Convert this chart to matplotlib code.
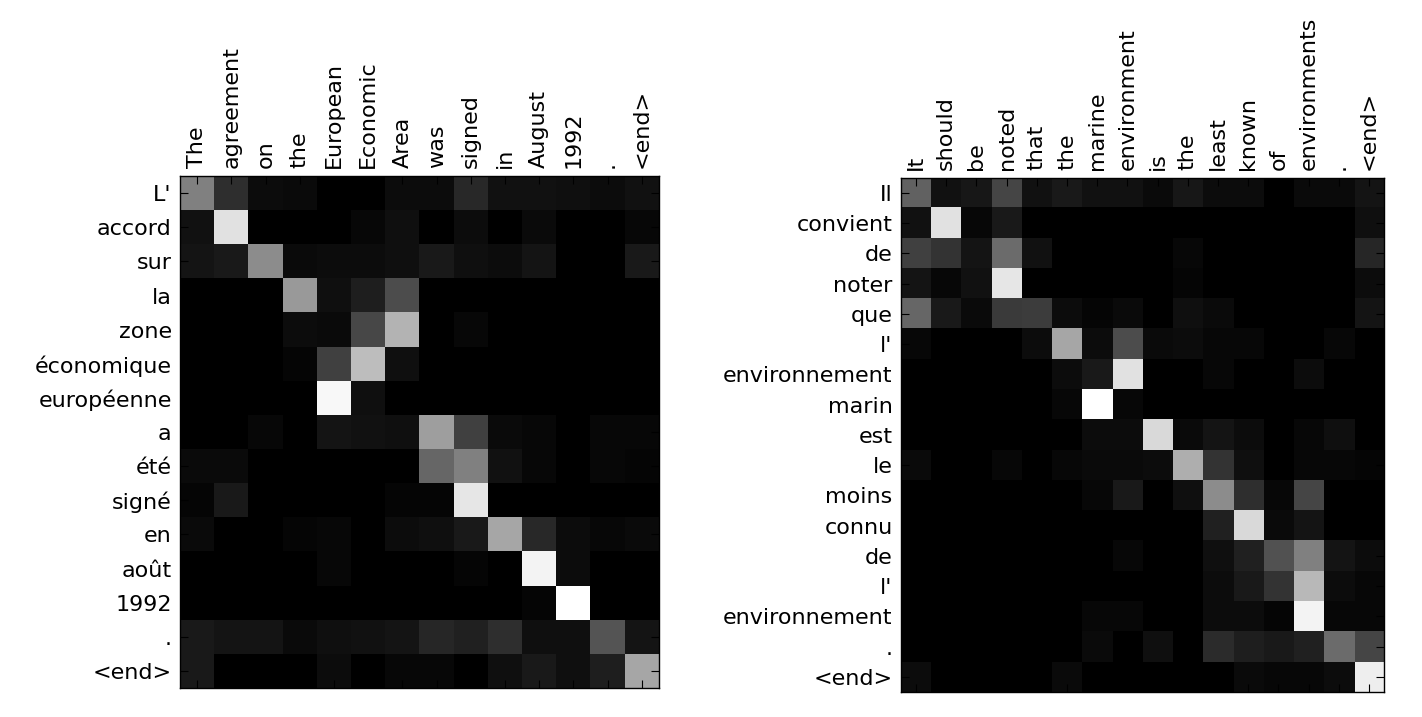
import numpy as np
import matplotlib
matplotlib.use("Agg")
import matplotlib.pyplot as plt

# lewa macierz uwagi
zrodlo1 = ["The", "agreement", "on", "the", "European", "Economic", "Area",
           "was", "signed", "in", "August", "1992", ".", "<end>"]
cel1 = ["L'", "accord", "sur", "la", "zone", "économique", "européenne",
        "a", "été", "signé", "en", "août", "1992", ".", "<end>"]
uwaga1 = [
    [0.50, 0.18, 0.05, 0.04, 0.00, 0.00, 0.05, 0.05, 0.16, 0.07, 0.07, 0.06, 0.05, 0.07],
    [0.07, 0.88, 0.00, 0.00, 0.00, 0.03, 0.06, 0.00, 0.05, 0.00, 0.04, 0.00, 0.00, 0.03],
    [0.08, 0.10, 0.55, 0.04, 0.05, 0.05, 0.06, 0.10, 0.06, 0.05, 0.08, 0.00, 0.00, 0.10],
    [0.00, 0.00, 0.00, 0.60, 0.06, 0.12, 0.30, 0.00, 0.00, 0.00, 0.00, 0.00, 0.00, 0.00],
    [0.00, 0.00, 0.00, 0.05, 0.04, 0.28, 0.70, 0.00, 0.03, 0.00, 0.00, 0.00, 0.00, 0.00],
    [0.00, 0.00, 0.00, 0.02, 0.25, 0.74, 0.06, 0.00, 0.00, 0.00, 0.00, 0.00, 0.00, 0.00],
    [0.00, 0.00, 0.00, 0.00, 0.97, 0.06, 0.00, 0.00, 0.00, 0.00, 0.00, 0.00, 0.00, 0.00],
    [0.00, 0.00, 0.03, 0.00, 0.08, 0.07, 0.06, 0.62, 0.25, 0.04, 0.03, 0.00, 0.03, 0.03],
    [0.04, 0.04, 0.00, 0.00, 0.00, 0.00, 0.00, 0.40, 0.50, 0.07, 0.03, 0.00, 0.03, 0.02],
    [0.02, 0.10, 0.00, 0.00, 0.00, 0.00, 0.02, 0.02, 0.90, 0.00, 0.00, 0.00, 0.00, 0.00],
    [0.04, 0.00, 0.00, 0.02, 0.03, 0.00, 0.05, 0.06, 0.10, 0.65, 0.16, 0.05, 0.03, 0.04],
    [0.00, 0.00, 0.00, 0.00, 0.03, 0.00, 0.00, 0.00, 0.02, 0.00, 0.95, 0.05, 0.00, 0.00],
    [0.00, 0.00, 0.00, 0.00, 0.00, 0.00, 0.00, 0.00, 0.00, 0.00, 0.02, 1.00, 0.00, 0.00],
    [0.10, 0.08, 0.08, 0.04, 0.06, 0.07, 0.08, 0.15, 0.13, 0.18, 0.06, 0.06, 0.33, 0.08],
    [0.10, 0.00, 0.00, 0.00, 0.05, 0.00, 0.03, 0.03, 0.00, 0.06, 0.10, 0.06, 0.12, 0.65],
]

# prawa macierz uwagi
zrodlo2 = ["It", "should", "be", "noted", "that", "the", "marine", "environment",
           "is", "the", "least", "known", "of", "environments", ".", "<end>"]
cel2 = ["Il", "convient", "de", "noter", "que", "l'", "environnement", "marin",
        "est", "le", "moins", "connu", "de", "l'", "environnement", ".", "<end>"]
uwaga2 = [
    [0.38, 0.07, 0.09, 0.27, 0.07, 0.10, 0.07, 0.07, 0.04, 0.09, 0.05, 0.05, 0.00, 0.04, 0.04, 0.08],
    [0.07, 0.88, 0.03, 0.10, 0.00, 0.00, 0.00, 0.00, 0.00, 0.00, 0.00, 0.00, 0.00, 0.00, 0.00, 0.06],
    [0.25, 0.20, 0.08, 0.42, 0.07, 0.00, 0.00, 0.00, 0.00, 0.03, 0.00, 0.00, 0.00, 0.00, 0.00, 0.15],
    [0.08, 0.03, 0.07, 0.90, 0.00, 0.00, 0.00, 0.00, 0.00, 0.02, 0.00, 0.00, 0.00, 0.00, 0.00, 0.05],
    [0.40, 0.10, 0.04, 0.23, 0.24, 0.05, 0.02, 0.04, 0.00, 0.06, 0.04, 0.00, 0.00, 0.00, 0.00, 0.08],
    [0.03, 0.00, 0.00, 0.00, 0.05, 0.65, 0.05, 0.30, 0.04, 0.05, 0.03, 0.03, 0.00, 0.00, 0.03, 0.00],
    [0.00, 0.00, 0.00, 0.00, 0.00, 0.05, 0.10, 0.88, 0.00, 0.00, 0.03, 0.00, 0.00, 0.05, 0.00, 0.00],
    [0.00, 0.00, 0.00, 0.00, 0.00, 0.03, 1.00, 0.03, 0.00, 0.00, 0.00, 0.00, 0.00, 0.00, 0.00, 0.00],
    [0.00, 0.00, 0.00, 0.00, 0.00, 0.00, 0.05, 0.05, 0.85, 0.04, 0.08, 0.05, 0.00, 0.03, 0.06, 0.00],
    [0.04, 0.00, 0.00, 0.03, 0.00, 0.03, 0.04, 0.04, 0.05, 0.68, 0.20, 0.06, 0.00, 0.03, 0.03, 0.02],
    [0.00, 0.00, 0.00, 0.00, 0.00, 0.00, 0.03, 0.10, 0.00, 0.06, 0.55, 0.18, 0.03, 0.27, 0.00, 0.00],
    [0.00, 0.00, 0.00, 0.00, 0.00, 0.00, 0.00, 0.00, 0.00, 0.00, 0.13, 0.85, 0.04, 0.08, 0.00, 0.00],
    [0.00, 0.00, 0.00, 0.00, 0.00, 0.00, 0.00, 0.03, 0.00, 0.00, 0.06, 0.13, 0.32, 0.50, 0.08, 0.05],
    [0.00, 0.00, 0.00, 0.00, 0.00, 0.00, 0.00, 0.00, 0.00, 0.00, 0.05, 0.10, 0.20, 0.72, 0.05, 0.03],
    [0.00, 0.00, 0.00, 0.00, 0.00, 0.00, 0.03, 0.03, 0.00, 0.00, 0.05, 0.05, 0.02, 0.95, 0.03, 0.03],
    [0.00, 0.00, 0.00, 0.00, 0.00, 0.00, 0.04, 0.00, 0.06, 0.00, 0.17, 0.12, 0.10, 0.13, 0.42, 0.27],
    [0.05, 0.00, 0.00, 0.00, 0.00, 0.04, 0.00, 0.00, 0.00, 0.00, 0.00, 0.04, 0.03, 0.03, 0.05, 0.93],
]

rozmiar = 16

def rysuj(ax, macierz, zrodlo, cel):
    ax.imshow(np.array(macierz), cmap="gray", vmin=0, vmax=1,
              interpolation="nearest", aspect="auto")
    ax.set_xticks(range(len(zrodlo)))
    ax.set_yticks(range(len(cel)))
    ax.set_xticklabels(zrodlo, rotation=90, fontsize=rozmiar)
    ax.set_yticklabels(cel, fontsize=rozmiar)
    ax.xaxis.tick_top()
    ax.tick_params(direction="in", top=True, bottom=True, left=True, right=True,
                   labeltop=True, labelbottom=False, length=6, color="black", pad=6)
    for s in ax.spines.values():
        s.set_linewidth(1.0)


fig = plt.figure(figsize=(14.22, 7.17), dpi=100)
ax1 = fig.add_axes([0.1266, 0.0404, 0.3368, 0.714])
ax2 = fig.add_axes([0.6336, 0.0349, 0.3397, 0.717])
rysuj(ax1, uwaga1, zrodlo1, cel1)
rysuj(ax2, uwaga2, zrodlo2, cel2)

fig.savefig("out.png", dpi=100)
